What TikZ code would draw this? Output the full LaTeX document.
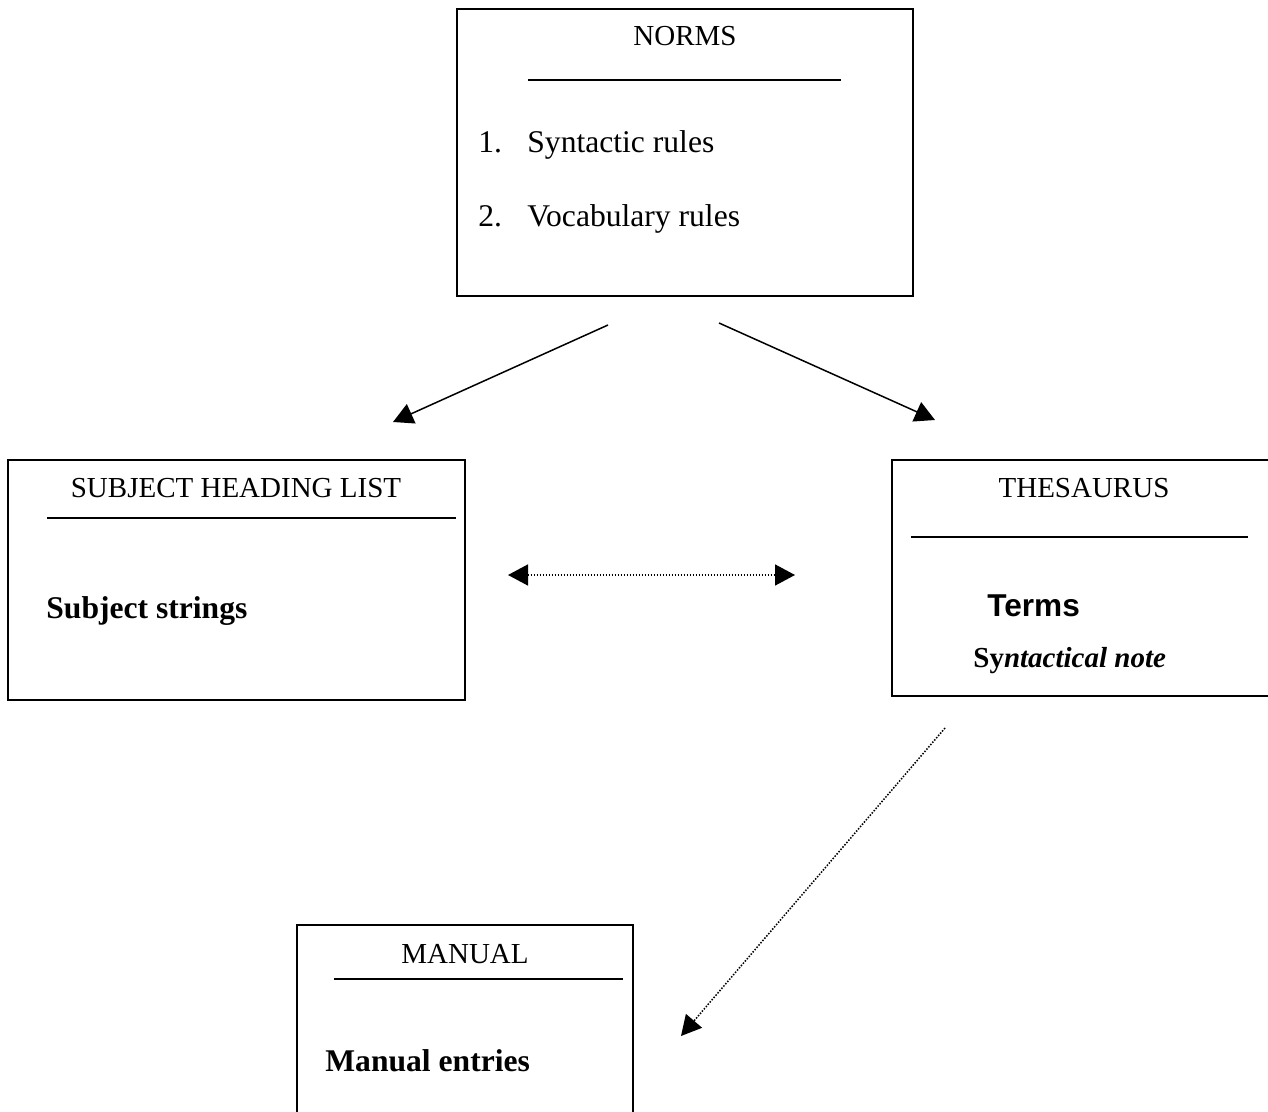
\documentclass[tikz,border=0pt]{standalone}
\usepackage{fontspec}
\setmainfont{Liberation Serif}
\newfontfamily\arialfont{Liberation Sans}
\usetikzlibrary{positioning,fit,arrows.meta}
\tikzset{box/.style={
        draw, 
        rectangle, 
        inner sep=0pt, 
        line width=1pt } }
\tikzset{heading/.style={
        anchor=base, 
        inner sep=0pt, 
        font=\fontsize{14.5}{17}\selectfont } }
\tikzset{entry/.style={
        anchor=base west, 
        inner sep=0pt, 
        font=\fontsize{15.8}{19}\selectfont } }
\tikzset{rule/.style={line width=1pt}}
\tikzset{link/.style={line width=0.75pt, -{Triangle[length=10pt,width=10.5pt]}}}
\tikzset{dots/.style={dash pattern=on 0.75pt off 0.75pt}}

\begin{document}
\begin{tikzpicture}[x=0.5pt,y=-0.5pt]
\useasboundingbox (0,0) rectangle (1268,1112);

% boxes
\node[box, fit={(457,9) (913,296)}] (norms) {};
\node[box, fit={(8,460) (465,700)}] (shl) {};
\node[box, fit={(892,460) (1274,696)}] (thes) {};
\node[box, fit={(297,925) (633,1124)}] (manual) {};

% norms
\node[heading] (normstitle) at (685,46) {NORMS};
\draw[rule] (528,80) -- (841,80);
\node[entry] (num1) at (478,153) {1.};
\node[entry] (syn) at (527,153) {Syntactic rules};
\node[entry] (num2) at (478,227) {2.};
\node[entry] (voc) at (527,227) {Vocabulary rules};

% subject heading list
\node[heading] (shltitle) at (236,497) {SUBJECT HEADING LIST};
\draw[rule] (47,518) -- (456,518);
\node[entry, font=\fontsize{15.8}{19}\selectfont\bfseries] (strings) at (46,618) {Subject strings};

% thesaurus
\node[heading] (thestitle) at (1084,497) {THESAURUS};
\draw[rule] (911,537) -- (1248,537);
\node[entry, font=\fontsize{15.8}{19}\arialfont\bfseries] (terms) at (987,616) {Terms};
\node[entry, font=\fontsize{14.5}{17}\selectfont\bfseries] (note) at (973,667) {Sy\textit{ntactical note}};

% manual
\node[heading] (manualtitle) at (465,963) {MANUAL};
\draw[rule] (334,979) -- (623,979);
\node[entry, font=\fontsize{15.8}{19}\selectfont\bfseries] (entries) at (325,1071) {Manual entries};

% arrow ends
\coordinate (n1) at (608,325);
\coordinate (s1) at (393,422);
\coordinate (n2) at (719,323);
\coordinate (t1) at (935,420);
\coordinate (s2) at (508,575);
\coordinate (t2) at (795,575);
\coordinate (t3) at (945,728);
\coordinate (m1) at (681,1036);

\draw[link] (n1) -- (s1);
\draw[link] (n2) -- (t1);
\draw[link, dots, {Triangle[length=10pt,width=10.5pt]}-{Triangle[length=10pt,width=10.5pt]}] (s2) -- (t2);
\draw[link, dots] (t3) -- (m1);

\end{tikzpicture}
\end{document}
